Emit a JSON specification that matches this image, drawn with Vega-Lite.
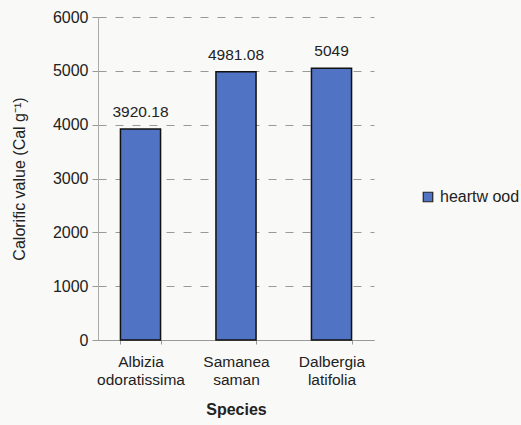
{
  "$schema": "https://vega.github.io/schema/vega-lite/v6.json",
  "width": 276,
  "height": 323,
  "autosize": {"type": "none"},
  "padding": {"left": 98, "top": 17, "right": 147, "bottom": 85},
  "background": "#f9f9f7",
  "config": {
    "view": {"stroke": null},
    "font": "Liberation Sans",
    "axis": {"labelFont": "Liberation Sans", "titleFont": "Liberation Sans", "labelColor": "#222", "titleColor": "#222"}
  },
  "data": {
    "values": [
      {"species": "Albizia odoratissima", "value": 3920.18, "label": "3920.18", "series": "heartw ood"},
      {"species": "Samanea saman", "value": 4981.08, "label": "4981.08", "series": "heartw ood"},
      {"species": "Dalbergia latifolia", "value": 5049, "label": "5049", "series": "heartw ood"}
    ]
  },
  "encoding": {
    "x": {
      "field": "species", "type": "nominal", "sort": null,
      "scale": {"paddingInner": 0.58, "paddingOuter": 0.235},
      "axis": {
        "title": "Species", "titleFontSize": 16, "titleFontWeight": "bold", "titlePadding": 14,
        "labelAngle": 0, "labelFontSize": 15.5, "labelExpr": "split(datum.label, ' ')",
        "labelPadding": 10, "labelLineHeight": 18,
        "tickBand": "extent", "tickColor": "#999", "tickSize": 4, "domainColor": "#999"
      }
    },
    "y": {
      "field": "value", "type": "quantitative",
      "scale": {"domain": [0, 6000]},
      "axis": {
        "title": "Calorific value (Cal g⁻¹)", "titleFontSize": 16, "titleFontWeight": "normal", "titlePadding": 25,
        "values": [0, 1000, 2000, 3000, 4000, 5000, 6000], "format": "d",
        "labelFontSize": 16, "labelPadding": 4, "tickSize": 6, "tickColor": "#999",
        "domainColor": "#aaa",
        "grid": true, "gridDash": [8, 9], "gridColor": "#999", "gridWidth": 1
      }
    }
  },
  "layer": [
    {
      "mark": {"type": "bar", "fill": "#5073c3", "stroke": "#111", "strokeWidth": 1.5},
      "encoding": {
        "color": {
          "field": "series", "type": "nominal",
          "scale": {"range": ["#5073c3"]},
          "legend": {
            "title": null, "orient": "none", "legendX": 322, "legendY": 172,
            "symbolType": "square", "symbolSize": 90, "symbolStrokeColor": "#222", "symbolStrokeWidth": 1.2,
            "labelFontSize": 16, "labelFont": "Liberation Sans", "labelColor": "#222"
          }
        }
      }
    },
    {
      "mark": {"type": "text", "dy": -9, "fontSize": 15.5, "color": "#222", "baseline": "bottom"},
      "encoding": {"text": {"field": "label"}}
    }
  ]
}
